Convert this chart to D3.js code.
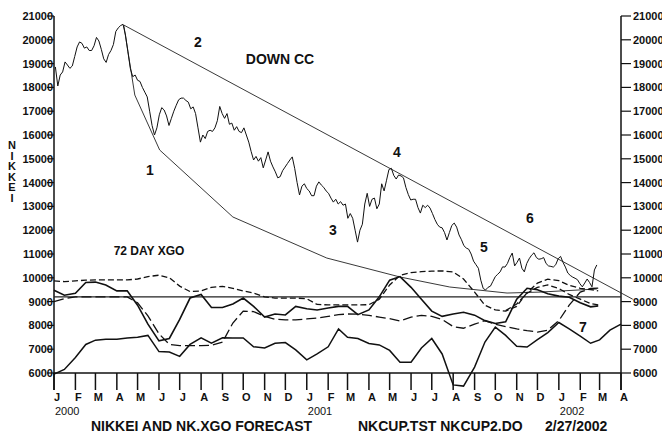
<!DOCTYPE html>
<html>
<head>
<meta charset="utf-8">
<script src="https://cdn.jsdelivr.net/npm/d3@7"></script>
<style>
  body { margin: 0; background: #fff; }
  svg { display: block; font-family: "Liberation Sans", Arial, sans-serif; }
</style>
</head>
<body>
<div id="chart"></div>
<script>
// Nikkei closes read twice a week (every 3.5 days) from 2000-01-03
const priceStart = "2000-01-03";
const nikkei = [
  18860, 18060, 18520, 18650, 19070, 18940, 18800, 18900, 19300, 19700,
  19910, 19850, 19650, 19700, 19550, 19550, 19750, 20100, 19950, 19600,
  19200, 19050, 19380, 19550, 19800, 20350, 20500, 20600, 20650, 20200,
  19500, 18800, 18450, 18520, 18300, 18250, 18000, 17800, 17600, 17000,
  16400, 16000, 16300, 16850, 17150, 17050, 16800, 16400, 16700, 17000,
  17250, 17480, 17550, 17550, 17450, 17380, 17100, 17180, 16900, 16300,
  15700, 16000, 15850, 16150, 16200, 16150, 16300, 16600, 17200, 16900,
  16700, 16900, 16450, 16500, 16200, 16350, 16150, 16100, 16300, 16000,
  15700, 15300, 14950, 15100, 14900, 15050, 14620, 14950, 15290, 14900,
  14660, 14450, 14200, 14250, 14500, 14650, 14800, 14950, 15080, 14600,
  14000, 13480, 13850, 13950, 13750, 13650, 13450, 13450, 13850, 14030,
  13900, 13800, 13650, 13550, 13350, 13180, 13300, 13100, 13200, 13050,
  13100, 12500, 12700, 12500, 12000, 11500, 12000, 12250, 13100, 13550,
  13000, 13300, 13350, 12900, 13100, 13950, 13650, 14100, 14550, 14600,
  14300, 14150, 14320, 14280, 14200, 13800, 13500, 13270, 13300, 13300,
  12950, 12720, 13050, 12950, 13050, 12930, 12700, 12450, 12250, 12130,
  12100, 11900, 11590, 11900, 12200, 12300, 12130, 11800, 11600, 11350,
  11250, 11200, 11000, 10700, 10550, 10400, 9900, 9550, 9490, 9600,
  9650, 9850, 10050, 10150, 10250, 10460, 10450, 10600, 10850, 11040,
  10500, 10650, 10830, 10400, 10250, 10600, 10800, 10950, 11050, 10850,
  10780, 10800, 10850, 10600, 10500, 10480, 10450, 10550, 10800, 10900,
  10650, 10450, 10200, 10100, 10030, 9980, 9920, 9750, 9620, 9780,
  9950, 9800, 9620, 10330, 10540
];

// XGO lines, read on the 1st and 16th of each month from 2000-01-01
const xgoStart = "2000-01-01";
const lastDay = "2002-02-27";
// solid oscillator
const xgo = [
  9480, 9270, 9350, 9800, 9820, 9700, 9450, 9450, 8850, 8050,
  7350, 7450, 8250, 9150, 9300, 8750, 8750, 8900, 9150, 8800,
  8350, 8480, 8440, 8800, 8700, 8650, 8730, 8800, 8800, 8450,
  8650, 9200, 9900, 10050, 9600, 9100, 8600, 8380, 8480, 8550,
  8430, 8200, 8080, 8150, 9100, 9560, 9500, 9330, 9230, 9180,
  8950, 8780, 8820
];
// upper short dash
const xgoUpper = [
  9870, 9840, 9870, 9900, 9910, 9910, 9910, 9910, 9950, 10050,
  10110, 10000, 9650, 9420, 9450, 9600, 9640, 9560, 9450, 9360,
  9200, 9150, 9150, 9150, 9120, 8880, 8860, 8860, 8860, 8860,
  8870, 9100, 9700, 10100, 10220, 10260, 10280, 10290, 10250, 9950,
  9400, 8850, 8650, 8600, 8800, 9380, 9780, 9940, 9880, 9680,
  9560, 9500, 9450
];
// long dash
const xgoAverage = [
  9000, 9120, 9200, 9200, 9200, 9200, 9200, 9200, 8950, 8400,
  7650, 7200, 7150, 7150, 7150, 7160, 7300, 8100, 8600, 8580,
  8380, 8260, 8230, 8230, 8270, 8310, 8380, 8450, 8480, 8470,
  8420, 8350, 8280, 8180, 8350, 8420, 8380, 8250, 7950, 7880,
  8050, 8200, 8050, 7950, 7850, 7780, 7720, 7800, 8200, 8850,
  9400, 9550, 9570
];
// short dash from 2001-10-16
const xgoLate = [8620, 8900, 9350, 9600, 9700, 9550, 9300, 9100, 8920, 8860];
const xgoLateFrom = 43;
// lower solid forecast, to 2002-04-01
const forecast = [
  5950, 6150, 6650, 7200, 7380, 7420, 7420, 7470, 7500, 7580,
  6900, 6880, 6700, 7200, 7480, 7250, 7480, 7470, 7470, 7100,
  7050, 7250, 7280, 6970, 6550, 6800, 7100, 7850, 7500, 7450,
  7240, 7180, 6950, 6450, 6450, 7050, 7450, 6800, 5500, 5450,
  6250, 7300, 7930, 7580, 7120, 7090, 7400, 7700, 8120, 7850,
  7550, 7250, 7390, 7800, 8050
];

const xgoLevel = 9200;

// trend line (2) and cup curve (1)
const trendLine = [["2000-04-11", 20620], ["2002-04-18", 9100]];
const cupCurve = [
  ["2000-04-11", 20620], ["2000-04-27", 17680], ["2000-06-02", 15370],
  ["2000-09-16", 12555], ["2001-01-30", 10830], ["2001-05-16", 10034],
  ["2001-07-27", 9613], ["2001-10-18", 9360], ["2001-12-05", 9400],
  ["2002-02-25", 9530]
];

const yTicks = [6000, 7000, 8000, 9000, 10000, 11000, 12000, 13000, 14000,
  15000, 16000, 17000, 18000, 19000, 20000, 21000];
const monthLetters = ["J", "F", "M", "A", "M", "J", "J", "A", "S", "O", "N", "D"];
const yearLabels = ["2000", "2001", "2002"];
const axisTitle = ["N", "I", "K", "K", "E", "I"];

const width = 662;
const height = 439;
const parse = d3.timeParse("%Y-%m-%d");

const x = d3.scaleTime()
    .domain([parse("2000-01-01"), parse("2002-04-01")])
    .range([54, 621]);

const y = d3.scaleLinear()
    .domain([6000, 21000])
    .range([373, 16]);

const svg = d3.select("#chart").append("svg")
    .attr("width", width)
    .attr("height", height);

svg.append("rect").attr("width", width).attr("height", height).attr("fill", "#fff");

// dates for the half-monthly series
function halfMonths(n) {
  const start = parse(xgoStart);
  return d3.range(n).map(i => {
    const d = d3.timeMonth.offset(start, Math.floor(i / 2));
    if (i % 2) d.setDate(16);
    return d;
  });
}
function toEnd(values) {
  const dates = halfMonths(values.length - 1).concat([parse(lastDay)]);
  return values.map((v, i) => [dates[i], v]);
}

const line = d3.line().x(d => x(d[0])).y(d => y(d[1]));

// axes
const axisColor = "#111";
svg.append("line").attr("x1", 54).attr("x2", 54).attr("y1", y(21000)).attr("y2", 390)
    .attr("stroke", axisColor).attr("stroke-width", 1.5);
svg.append("line").attr("x1", 621).attr("x2", 621).attr("y1", y(21000)).attr("y2", 390)
    .attr("stroke", axisColor).attr("stroke-width", 1.5);
svg.append("line").attr("x1", 54).attr("x2", 621).attr("y1", y(6000)).attr("y2", y(6000))
    .attr("stroke", axisColor).attr("stroke-width", 1.5);

const left = svg.append("g");
left.selectAll("line").data(yTicks).enter().append("line")
    .attr("x1", 47).attr("x2", 54)
    .attr("y1", d => y(d)).attr("y2", d => y(d))
    .attr("stroke", axisColor).attr("stroke-width", 1.2);
left.selectAll("text").data(yTicks).enter().append("text")
    .attr("x", 53).attr("y", d => y(d) + 4)
    .attr("text-anchor", "end")
    .attr("font-size", 11).attr("font-weight", "bold").attr("fill", "#111")
    .text(d => d);

// right labels run off the edge, as in the original print
const right = svg.append("g");
right.selectAll("line").data(yTicks).enter().append("line")
    .attr("x1", 621).attr("x2", 631)
    .attr("y1", d => y(d)).attr("y2", d => y(d))
    .attr("stroke", axisColor).attr("stroke-width", 1.2);
right.selectAll("text").data(yTicks).enter().append("text")
    .attr("x", 633).attr("y", d => y(d) + 4)
    .attr("font-size", 11).attr("font-weight", "bold").attr("fill", "#111")
    .text(d => d);

// month ticks
const months = d3.timeMonth.range(parse("2000-01-01"), parse("2002-04-02"));
const bottom = svg.append("g");
bottom.selectAll("line").data(months).enter().append("line")
    .attr("x1", d => x(d)).attr("x2", d => x(d))
    .attr("y1", y(6000)).attr("y2", 390)
    .attr("stroke", axisColor).attr("stroke-width", 1.5);
bottom.selectAll("text.m").data(months).enter().append("text")
    .attr("class", "m")
    .attr("x", d => x(d) + 3).attr("y", 401)
    .attr("text-anchor", "middle")
    .attr("font-size", 11).attr("font-weight", "bold").attr("fill", "#111")
    .text(d => monthLetters[d.getMonth()]);
bottom.selectAll("text.yr").data(yearLabels).enter().append("text")
    .attr("class", "yr")
    .attr("x", d => x(parse(d + "-01-01")) + 1).attr("y", 415)
    .attr("font-size", 11).attr("fill", "#111")
    .text(d => d);

// vertical axis title
svg.selectAll("text.ax").data(axisTitle).enter().append("text")
    .attr("class", "ax")
    .attr("x", 12).attr("y", (d, i) => 149 + i * 10.6)
    .attr("text-anchor", "middle")
    .attr("font-size", 11).attr("font-weight", "bold").attr("fill", "#111")
    .text(d => d);

// XGO level line
svg.append("line")
    .attr("x1", 54).attr("x2", 621)
    .attr("y1", y(xgoLevel)).attr("y2", y(xgoLevel))
    .attr("stroke", "#222").attr("stroke-width", 1.4);

// cup curve and trend line
svg.append("path")
    .datum(cupCurve.map(d => [parse(d[0]), d[1]]))
    .attr("d", line).attr("fill", "none")
    .attr("stroke", "#222").attr("stroke-width", 0.9);
svg.append("path")
    .datum(trendLine.map(d => [parse(d[0]), d[1]]))
    .attr("d", line).attr("fill", "none")
    .attr("stroke", "#222").attr("stroke-width", 0.9);

// XGO lines
svg.append("path")
    .datum(toEnd(xgoUpper))
    .attr("d", line).attr("fill", "none")
    .attr("stroke", "#111").attr("stroke-width", 1.3).attr("stroke-dasharray", "6,3");
svg.append("path")
    .datum(toEnd(xgoAverage))
    .attr("d", line).attr("fill", "none")
    .attr("stroke", "#111").attr("stroke-width", 1.3).attr("stroke-dasharray", "10,4");
const lateDates = halfMonths(52).slice(xgoLateFrom).concat([parse(lastDay)]);
svg.append("path")
    .datum(xgoLate.map((v, i) => [lateDates[i], v]))
    .attr("d", line).attr("fill", "none")
    .attr("stroke", "#111").attr("stroke-width", 1.3).attr("stroke-dasharray", "6,3");
svg.append("path")
    .datum(toEnd(xgo))
    .attr("d", line).attr("fill", "none")
    .attr("stroke", "#111").attr("stroke-width", 1.6);
const fDates = halfMonths(forecast.length);
svg.append("path")
    .datum(forecast.map((v, i) => [fDates[i], v]))
    .attr("d", line).attr("fill", "none")
    .attr("stroke", "#111").attr("stroke-width", 1.5);

// Nikkei price
const p0 = parse(priceStart);
svg.append("path")
    .datum(nikkei.map((v, i) => [d3.timeHour.offset(p0, 84 * i), v]))
    .attr("d", line).attr("fill", "none")
    .attr("stroke", "#111").attr("stroke-width", 1);

// annotations
const notes = [
  ["2", 198, 47, 14], ["DOWN CC", 280, 64, 14], ["1", 150, 175, 14],
  ["3", 333, 235, 14], ["4", 397, 157, 14], ["5", 484, 252, 14],
  ["6", 530, 223, 14], ["7", 583, 332, 14], ["72 DAY XGO", 149, 255, 12]
];
svg.selectAll("text.note").data(notes).enter().append("text")
    .attr("class", "note")
    .attr("x", d => d[1]).attr("y", d => d[2])
    .attr("text-anchor", "middle")
    .attr("font-size", d => d[3]).attr("font-weight", "bold").attr("fill", "#111")
    .text(d => d[0]);

// footer
const footer = [["NIKKEI AND NK.XGO FORECAST", 91], ["NKCUP.TST NKCUP2.DO", 358], ["2/27/2002", 545]];
svg.selectAll("text.foot").data(footer).enter().append("text")
    .attr("class", "foot")
    .attr("x", d => d[1]).attr("y", 431)
    .attr("font-size", 14).attr("font-weight", "bold").attr("fill", "#111")
    .text(d => d[0]);
</script>
</body>
</html>
